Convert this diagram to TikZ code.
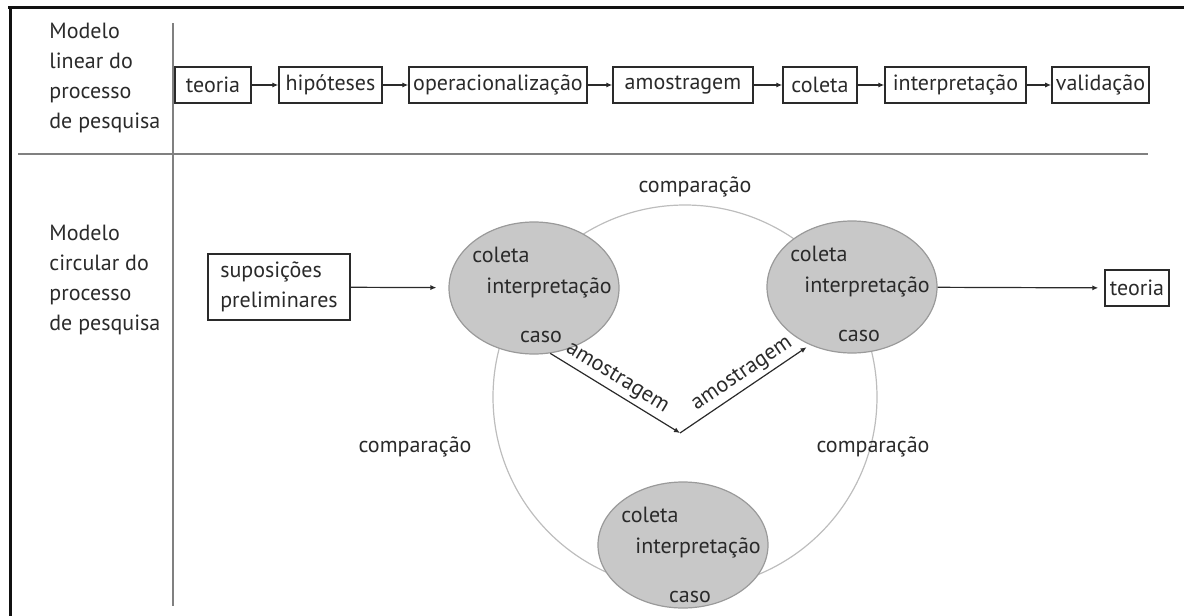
\documentclass[tikz,border=0pt]{standalone}
\usepackage{fontspec}
\setmainfont{PT Sans}
\usetikzlibrary{positioning,arrows.meta,calc,shapes.geometric}
\definecolor{ink}{HTML}{2A2A2A}
\definecolor{frameink}{HTML}{111111}
\definecolor{rulegrey}{HTML}{808080}
\definecolor{discfill}{HTML}{C8C8C8}
\definecolor{discline}{HTML}{9A9A9A}
\definecolor{ringgrey}{HTML}{BDBDBD}
\tikzset{
  stepbox/.style={draw=ink,line width=0.75pt,inner xsep=2pt,inner ysep=0pt,minimum height=18pt,text=ink},
  casedisc/.style={ellipse,draw=discline,fill=discfill,line width=0.6pt,minimum width=85pt,minimum height=66pt},
  plain/.style={text=ink,inner sep=0pt},
  lbl/.style={text=ink,align=left,inner sep=0pt},
  flow/.style={-{Latex[length=3pt,width=2.6pt]},draw=ink,line width=0.6pt},
  sepline/.style={draw=rulegrey,line width=1pt}}

\begin{document}
\begin{tikzpicture}[x=0.5pt,y=-0.5pt,font=\fontsize{11}{15}\selectfont]
  \useasboundingbox (0,0) rectangle (1184,616);
  % frame and rules
  \draw[frameink,line width=1.5pt] (8,7) -- (1184,7);
  \draw[frameink,line width=1.5pt] (10,7) -- (10,616);
  \draw[sepline] (173,23) -- (173,606);
  \draw[sepline] (18,154) -- (1148,154);
  % linear model
  \node[lbl,anchor=west] (linlbl) at (49,78) {Modelo\\linear do\\processo\\de pesquisa};
  \node[stepbox,minimum width=38pt]   (s1) at (213,85)    {teoria};
  \node[stepbox,minimum width=51.5pt] (s2) at (330.5,85)  {hipóteses};
  \node[stepbox,minimum width=89pt]   (s3) at (498,85)    {operacionalização};
  \node[stepbox,minimum width=70pt]   (s4) at (683,85)    {amostragem};
  \node[stepbox,minimum width=37pt]   (s5) at (820,85)    {coleta};
  \node[stepbox,minimum width=70.5pt] (s6) at (955.5,85)  {interpretação};
  \node[stepbox,minimum width=46.5pt] (s7) at (1100.5,85) {validação};
  \foreach \a/\b in {s1/s2,s2/s3,s3/s4,s4/s5,s5/s6,s6/s7}{\draw[flow] (\a) -- (\b);}
  % circular model
  \node[lbl,anchor=west] (cirlbl) at (49,280) {Modelo\\circular do\\processo\\de pesquisa};
  \draw[ringgrey,line width=0.6pt] (685,397) circle (96pt);
  \node[plain] (cmptop) at (695,187) {comparação};
  \node[plain] (cmpleft) at (415,447) {comparação};
  \node[plain] (cmpright) at (873,447) {comparação};
  \node[stepbox,align=left,minimum width=71pt,minimum height=33pt,inner xsep=4pt] (sup) at (279,287) {suposições\\preliminares};
  \node[casedisc] (lc) at (534,288) {};
  \node[casedisc] (rc) at (852,287) {};
  \node[casedisc,minimum height=63pt] (bc) at (683,545) {};
  \foreach \c/\dy in {lc/0,rc/0,bc/3}{
    \node[plain,anchor=west] at ($(\c)+(-62,-33+\dy)$) {coleta};
    \node[plain,anchor=west] at ($(\c)+(-48,0+\dy)$) {interpretação};
    \node[plain] at ($(\c)+(7,49+\dy)$) {caso};}
  \node[stepbox,minimum width=32pt] (teo) at (1137,288) {teoria};
  \coordinate (turn) at (680,433);
  \draw[flow,shorten >=6pt] (sup) -- (lc);
  \draw[flow,shorten >=3pt] (rc) -- (teo);
  \draw[flow] (lc.-76) -- node[plain,sloped,above=2pt,pos=0.46] {amostragem} (turn);
  \draw[flow,shorten >=2pt] (turn) -- node[plain,sloped,above=2pt,pos=0.54] {amostragem} (rc.-126);
\end{tikzpicture}
\end{document}
